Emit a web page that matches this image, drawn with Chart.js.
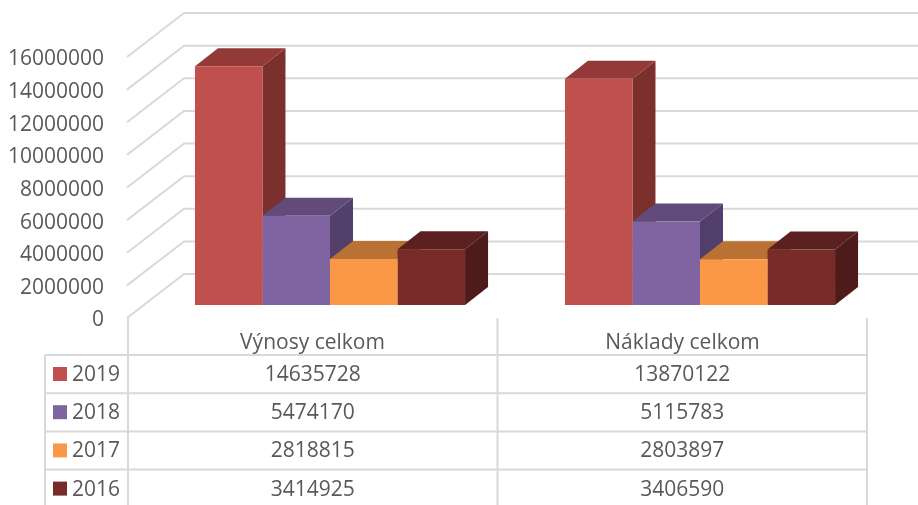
<!DOCTYPE html>
<html>
<head>
<meta charset="utf-8">
<style>
  html, body { margin: 0; padding: 0; background: #fff; }
  canvas { display: block; }
</style>
<script src="https://cdn.jsdelivr.net/npm/chart.js@4"></script>
</head>
<body>
<canvas id="chart" width="918" height="505"></canvas>
<script>
const categories = ['Výnosy celkom', 'Náklady celkom'];
const years = ['2019', '2018', '2017', '2016'];
const values2019 = [14635728, 13870122];
const values2018 = [5474170, 5115783];
const values2017 = [2818815, 2803897];
const values2016 = [3414925, 3406590];
const seriesValues = [values2019, values2018, values2017, values2016];

const frontColors = ['#c0504d', '#8064a2', '#fb9847', '#772c2a'];
const topColors = ['#933a38', '#614b7b', '#b97234', '#5a2120'];
const sideColors = ['#7b302e', '#533f6b', '#a3622e', '#4d1c1a'];

const textColor = '#595959';
const lineColor = '#d9d9d9';
const fontFamily = '"Open Sans", sans-serif';
const depthX = 23, depthY = -18;       // bar depth
const wallX = 57, wallY = -44;         // side wall depth
const gridDrop = 13;                   // front of the wall sits below the bars

function poly(ctx, pts, color) {
  ctx.fillStyle = color;
  ctx.beginPath();
  pts.forEach((p, i) => i ? ctx.lineTo(p[0], p[1]) : ctx.moveTo(p[0], p[1]));
  ctx.closePath();
  ctx.fill();
}

function line(ctx, pts) {
  ctx.beginPath();
  pts.forEach((p, i) => i ? ctx.lineTo(p[0], p[1]) : ctx.moveTo(p[0], p[1]));
  ctx.stroke();
}

const wall3d = {
  id: 'wall3d',
  beforeDatasetsDraw(chart) {
    const ctx = chart.ctx;
    const y = chart.scales.y;
    ctx.save();
    ctx.strokeStyle = lineColor;
    ctx.lineWidth = 2;
    y.ticks.forEach(t => {
      const py = y.getPixelForValue(t.value) + gridDrop;
      line(ctx, [[127, py], [127 + wallX, py + wallY], [918, py + wallY]]);
    });
    // sides and tops, left to right, the fronts are the real bars drawn after this
    categories.forEach((c, j) => {
      seriesValues.forEach((s, i) => {
        const bar = chart.getDatasetMeta(i).data[j];
        const l = bar.x - bar.width / 2, r = bar.x + bar.width / 2;
        poly(ctx, [[r, bar.y], [r + depthX, bar.y + depthY], [r + depthX, bar.base + depthY], [r, bar.base]], sideColors[i]);
        poly(ctx, [[l, bar.y], [l + depthX, bar.y + depthY], [r + depthX, bar.y + depthY], [r, bar.y]], topColors[i]);
      });
    });
    ctx.restore();
  },
  afterDraw(chart) {
    const ctx = chart.ctx;
    const edges = [128, 497.5, 867];
    const rowTop = 355, rowH = 38.2;
    ctx.save();
    ctx.strokeStyle = lineColor;
    ctx.lineWidth = 2;
    edges.forEach(x => line(ctx, [[x, 318], [x, 505]]));
    line(ctx, [[45, rowTop], [45, 505]]);
    years.forEach((yr, i) => {
      const top = rowTop + i * rowH;
      line(ctx, [[45, top], [867, top]]);
      ctx.fillStyle = frontColors[i];
      ctx.fillRect(53, top + 12, 14, 14);
      ctx.fillStyle = textColor;
      ctx.font = '21px ' + fontFamily;
      ctx.textBaseline = 'middle';
      ctx.textAlign = 'left';
      ctx.fillText(yr, 72, top + rowH / 2 + 1);
      ctx.textAlign = 'center';
      seriesValues[i].forEach((v, j) => {
        ctx.fillText(String(v), (edges[j] + edges[j + 1]) / 2, top + rowH / 2 + 1);
      });
    });
    ctx.restore();
  }
};

new Chart(document.getElementById('chart').getContext('2d'), {
  type: 'bar',
  plugins: [wall3d],
  data: {
    labels: categories,
    datasets: years.map((yr, i) => ({
      label: yr,
      data: seriesValues[i],
      backgroundColor: frontColors[i],
      borderWidth: 0,
      categoryPercentage: 0.73,
      barPercentage: 1
    }))
  },
  options: {
    responsive: false,
    animation: false,
    layout: { padding: { top: 44, right: 33, left: 0, bottom: 0 } },
    plugins: { legend: { display: false }, tooltip: { enabled: false } },
    scales: {
      x: {
        grid: { display: false, drawTicks: false },
        border: { display: false },
        afterFit: s => { s.height = 200; },
        ticks: {
          color: textColor,
          font: { family: fontFamily, size: 21 },
          padding: 25,
          labelOffset: -17.5,
          maxRotation: 0
        }
      },
      y: {
        min: 0,
        max: 16000000,
        grid: { display: false, drawTicks: false },
        border: { display: false },
        afterFit: s => { s.width = 145; s.paddingTop = 0; s.paddingBottom = 0; },
        ticks: {
          stepSize: 2000000,
          color: textColor,
          font: { family: fontFamily, size: 21 },
          padding: 41,
          labelOffset: gridDrop + 2.5,
          callback: v => String(v)
        }
      }
    }
  }
});
</script>
</body>
</html>
